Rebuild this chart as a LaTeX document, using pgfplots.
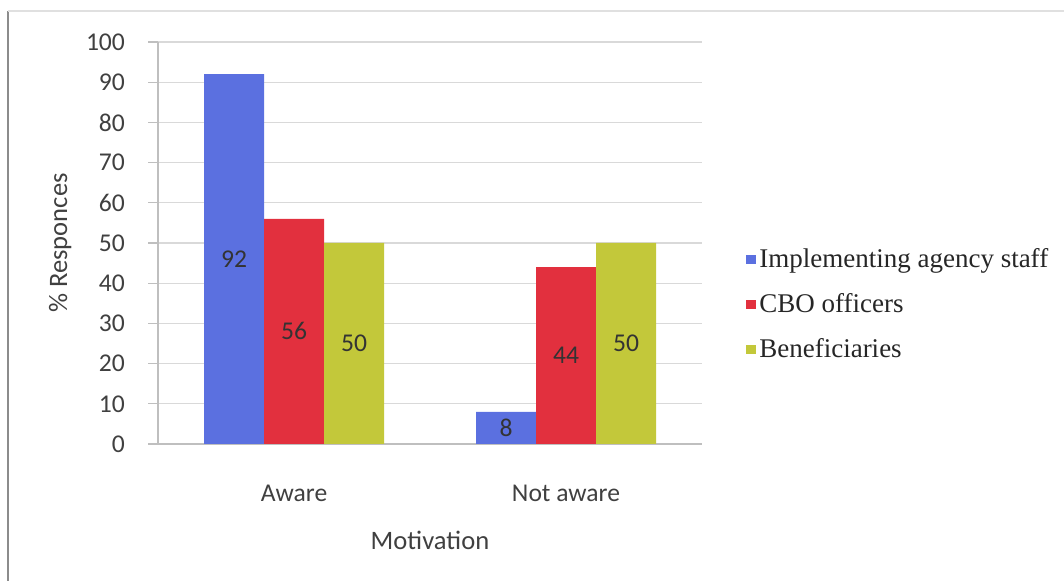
\documentclass[border=0pt]{standalone}
\usepackage{pgfplots}
\pgfplotsset{compat=1.18}
\usepackage{fontspec}
\setmainfont{Carlito}
\newfontfamily\legfont{Liberation Serif}
\definecolor{cblue}{HTML}{5B70E0}
\definecolor{cred}{HTML}{E2303E}
\definecolor{cgreen}{HTML}{C3C83A}
\definecolor{txt}{HTML}{404040}
\definecolor{gridc}{HTML}{D9D9D9}
\definecolor{axc}{HTML}{BFBFBF}
\begin{document}
\begin{tikzpicture}[x=1pt,y=1pt]
\useasboundingbox (0,0) rectangle (532,290.5);
\draw[color=black!45, line width=0.8pt] (4,0) -- (4,285);
\draw[color=black!12, line width=0.6pt] (4,285) -- (532,285);
\begin{axis}[
  at={(79pt,68.5pt)}, anchor=south west,
  scale only axis, width=272pt, height=201pt,
  ybar=0pt, bar width=30pt,
  xmin=-0.5, xmax=1.5, ymin=0, ymax=100,
  ytick={0,10,...,100},
  xtick={0,1}, xticklabels={Aware,Not aware},
  x tick style={draw=none},
  extra x ticks={-0.5,0.5,1.5}, extra x tick labels={},
  extra x tick style={tick style={draw=axc, line width=0.6pt}, grid=none},
  tick align=outside,
  major tick length=5pt,
  y tick style={draw=axc, line width=0.6pt},
  ymajorgrids, grid style={draw=gridc, line width=0.6pt},
  axis x line*=bottom, axis y line*=left,
  axis line style={draw=axc, line width=0.6pt, -},
  /pgf/number format/assume math mode=true,
  tick label style={font=\fontsize{12.8}{15}\selectfont, text=txt},
  yticklabel style={xshift=-8pt},
  xticklabel style={yshift=-12pt},
  xlabel={Motivation}, ylabel={\% Responces},
  label style={font=\fontsize{13.3}{15}\selectfont, text=txt},
  xlabel style={at={(axis description cs:0.5,-0.241)}, anchor=center},
  ylabel style={at={(axis description cs:-0.18,0.5)}, anchor=center},
  nodes near coords,
  visualization depends on=rawy \as \rawy,
  every node near coord/.append style={anchor=center, yshift=-1.005pt*\rawy, font=\fontsize{12.8}{15}\selectfont, text=black!80},
  legend style={at={(axis description cs:1.07,0.505)}, anchor=north west, draw=none, fill=none,
    font=\legfont\fontsize{13.5}{15}\selectfont, text=black!85, row sep=8.5pt,
    nodes={inner sep=1.5pt}},
  legend cell align=left,
  legend image code/.code={\fill[#1] (-0.5pt,-2.2pt) rectangle (4.4pt,2.2pt);},
]
\addplot[fill=cblue, draw=none] coordinates {(0,92) (1,8)};
\addplot[fill=cred, draw=none] coordinates {(0,56) (1,44)};
\addplot[fill=cgreen, draw=none] coordinates {(0,50) (1,50)};
\legend{Implementing agency staff, CBO officers, Beneficiaries}
\end{axis}
\end{tikzpicture}
\end{document}
